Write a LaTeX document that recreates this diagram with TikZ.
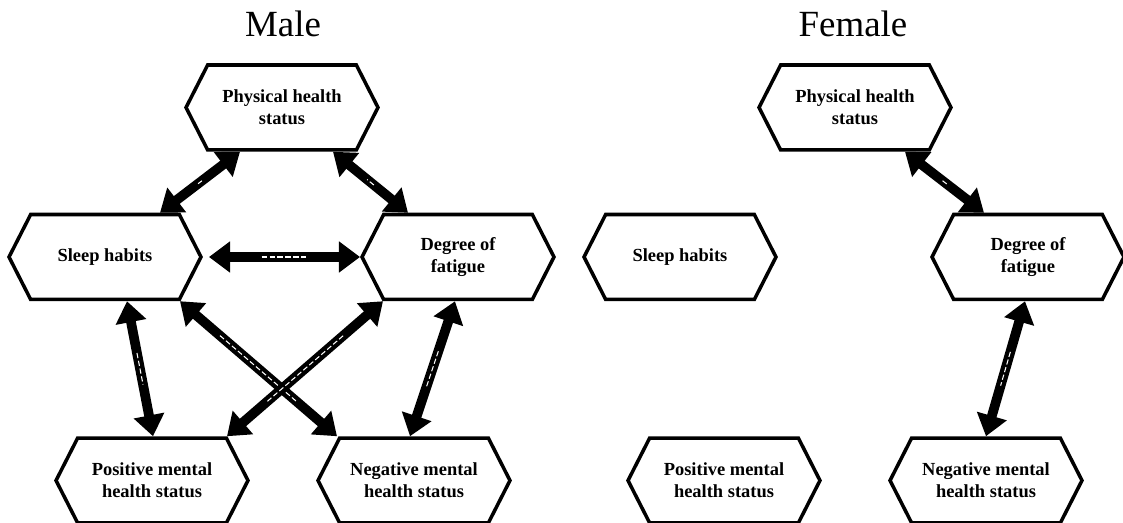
\documentclass[tikz,border=0pt]{standalone}
\usepackage{fontspec}
\setmainfont{Liberation Serif}
\usetikzlibrary{shapes.symbols,calc,arrows.meta}

\begin{document}
\begin{tikzpicture}[x=0.02cm,y=-0.02cm,
  hexbox/.style={shape=signal, signal to=west and east, signal pointer angle=126,
    draw, line width=2pt, minimum width=3.84cm, minimum height=1.70cm, inner sep=0pt,
    align=center, font=\bfseries\fontsize{10.5}{12.5}\selectfont},
  link/.style={line width=5.5pt, {Triangle[length=12pt,width=17pt]}-{Triangle[length=12pt,width=17pt]},
    postaction={draw=white, line width=0.6pt, arrows=-, dash pattern=on 3pt off 1.5pt,
      shorten <=30pt, shorten >=30pt}},
  title/.style={anchor=base, font=\fontsize{21}{25}\selectfont}]
\useasboundingbox (0,0) rectangle (1123,523);

% Male panel
\node[title] (mtitle) at (283,37) {Male};
\node[hexbox] (mphys) at (282,107.5) {Physical health\\status};
\node[hexbox] (msleep) at (105,257) {Sleep habits};
\node[hexbox] (mfat) at (458,257) {Degree of\\fatigue};
\node[hexbox] (mpos) at (152,480.5) {Positive mental\\health status};
\node[hexbox] (mneg) at (414,480.5) {Negative mental\\health status};

\draw[link] ($(mphys.south)+(-42,0)$) -- ($(msleep.north)+(55,0)$);
\draw[link] ($(mphys.south)+(51,0)$) -- ($(mfat.north)+(-50,0)$);
\draw[link] ($(msleep.east)+(6,0)$) -- (mfat.west);
\draw[link] ($(msleep.south)+(22,0)$) -- ($(mpos.north)+(1,0)$);
\draw[link] ($(mfat.south)+(-3,0)$) -- ($(mneg.north)+(-4,0)$);
\draw[link] ($(msleep.south)+(75,0)$) -- ($(mneg.north)+(-77,0)$);
\draw[link] ($(mfat.south)+(-75,0)$) -- ($(mpos.north)+(75,0)$);

% Female panel
\node[title] (ftitle) at (853,37) {Female};
\node[hexbox] (fphys) at (855,107.5) {Physical health\\status};
\node[hexbox] (fsleep) at (680,257) {Sleep habits};
\node[hexbox] (ffat) at (1028,257) {Degree of\\fatigue};
\node[hexbox] (fpos) at (724,480.5) {Positive mental\\health status};
\node[hexbox] (fneg) at (986,480.5) {Negative mental\\health status};

\draw[link] ($(fphys.south)+(50,0)$) -- ($(ffat.north)+(-44,0)$);
\draw[link] ($(ffat.south)+(-3,0)$) -- (fneg.north);
\end{tikzpicture}
\end{document}
